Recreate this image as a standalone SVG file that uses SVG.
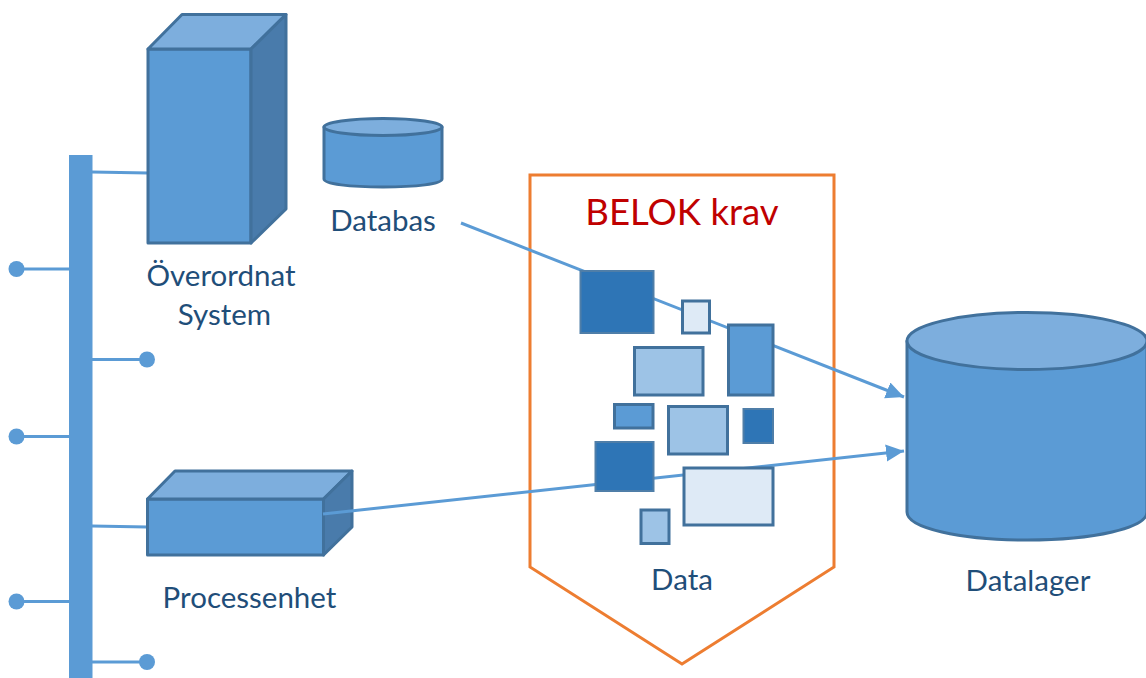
<svg xmlns="http://www.w3.org/2000/svg" width="1146" height="678" viewBox="0 0 1146 678">
<style>
.s{stroke:#41719c;stroke-width:3;stroke-linejoin:round}
.f{fill:#5b9bd5}.t{fill:#7daedd}.d{fill:#497bab}
.dk{fill:#2e75b6;stroke:#4f7ea8;stroke-width:2}
.mid{fill:#5b9bd5;stroke:#41719c;stroke-width:3}
.lt{fill:#9dc3e6;stroke:#41719c;stroke-width:3}
.pl{fill:#deeaf6;stroke:#41719c;stroke-width:3}
.c{stroke:#5b9bd5;stroke-width:3;fill:none}
.b{fill:#5b9bd5}
text{font-family:"Lato","Liberation Sans",sans-serif;font-size:29.500px;fill:#1f4e79;text-anchor:middle}
</style>
<defs><marker id="a" markerUnits="userSpaceOnUse" markerWidth="20" markerHeight="18" refX="18" refY="8.500" orient="auto"><path d="M0,0L18,8.500L0,17Z" fill="#5b9bd5"/></marker></defs>
<g id="bus">
<rect class="b" x="69" y="155" width="23.5" height="523"/>
<circle class="b" cx="16.500" cy="269" r="8"/><circle class="b" cx="147" cy="359.500" r="8"/><circle class="b" cx="16.500" cy="436.500" r="8"/><circle class="b" cx="16.500" cy="601.500" r="8"/><circle class="b" cx="147" cy="662" r="8"/>
</g>
<g id="connectors">
<path class="c" d="M16,269H69M92,359.500H147M16,436.500H69M16,601.500H69M92,662H147M92,172L148,173M92,526L147,527"/>
</g>
<g id="overordnat">
<path class="s f" d="M148,49H251V243H148Z"/><path class="s t" d="M148,49L182,14.500H286L251,49Z"/><path class="s d" d="M251,49L286,14.500V209L251,243Z"/>
<text x="221" y="286">Överordnat</text><text x="224.500" y="325">System</text>
</g>
<g id="databas">
<path class="s f" d="M324,127V179C324,184 350,187 383,187S442,184 442,179V127Z"/><ellipse class="s t" cx="383" cy="127" rx="59" ry="8.500"/>
<text x="383" y="231">Databas</text>
</g>
<g id="processenhet">
<path class="s f" d="M147.500,499H323.500V555H147.500Z"/><path class="s t" d="M147.500,499L175,471H352L323.500,499Z"/><path class="s d" d="M323.500,499L352,471V527L323.500,555Z"/>
<text x="249.500" y="608">Processenhet</text>
</g>
<g id="belok"><path d="M530,175H834V567L682,664L530,567Z" fill="none" stroke="#ed7d31" stroke-width="3"/>
<text x="682" y="225" style="font-size:36.600px;fill:#c00000">BELOK krav</text><text x="682" y="590">Data</text></g>
<g id="arrows">
<path class="c" marker-end="url(#a)" d="M461,223L904,397"/>
<path class="c" marker-end="url(#a)" d="M323,514L904,451"/>
</g>
<g id="data">
<rect class="dk" x="580.500" y="271" width="73" height="62"/>
<rect class="pl" x="682.500" y="301" width="27" height="32"/>
<rect class="mid" x="728.500" y="325" width="44.500" height="70"/>
<rect class="lt" x="634.500" y="347.500" width="68.500" height="47.500"/>
<rect class="mid" x="614.500" y="404.500" width="38.500" height="23.500"/>
<rect class="lt" x="668.500" y="406.500" width="59" height="47.500"/>
<rect class="dk" x="743.500" y="409" width="29.500" height="34"/>
<rect class="dk" x="595.500" y="442" width="58" height="49"/>
<rect class="pl" x="684" y="468" width="89" height="57"/>
<rect class="lt" x="641" y="510" width="28" height="33.500"/>
</g>
<g id="datalager">
<path class="s f" d="M907,341V512C907,528 960,540 1027,540S1147,528 1147,512V341Z"/><ellipse class="s t" cx="1027" cy="341" rx="120" ry="28.500"/>
<text x="1028" y="591">Datalager</text>
</g>
</svg>
